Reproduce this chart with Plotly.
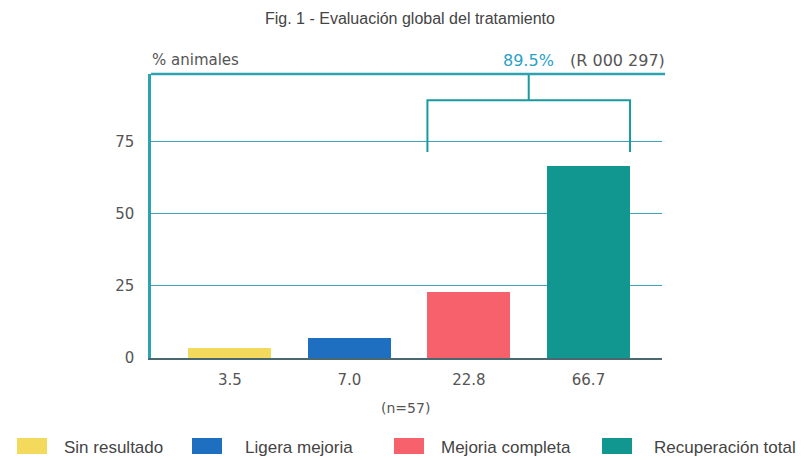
import plotly.graph_objects as go

# ---- data ----
categories = ["Sin resultado", "Ligera mejoria", "Mejoria completa", "Recuperación total"]
values = [3.5, 7.0, 22.8, 66.7]
colors = ["#F4DA5C", "#1F6FC1", "#F6616C", "#11978F"]
y_ticks = [0, 25, 50, 75]
n_label = "(n=57)"
total_label = "89.5%"
ref_label = "(R 000 297)"

# ---- layout constants (target pixels; page body adds an 8px offset) ----
OFF = 8
W, H = 806 - OFF, 460 - OFF
PL, PR, PT, PB = 151, 662, 74, 358   # plot box in target pixels
ML, MT = PL - OFF, PT - OFF
MR, MB = W - (PR - OFF), H - (PB - OFF)
PW, PH = PR - PL, PB - PT
YMAX = 98.6
XR = [-0.66, 3.615]
BW = 0.695
TEAL = "#2EA3B0"
GRID = "#3AA6B8"
TXT = "#555555"
SANS = "Liberation Sans, Arial, sans-serif"
WIDE = "DejaVu Sans, sans-serif"

def px_x(p):
    return (p - PL) / PW

def px_y(p):
    return (PB - p) / PH

fig = go.Figure()
xs = list(range(len(values)))
fig.add_trace(go.Bar(x=xs, y=values, marker=dict(color=colors, line=dict(width=0)),
                     width=BW, showlegend=False, hoverinfo="skip"))

# bracket over the last two groups
total = sum(values[2:])
lx, rx = 2 - BW / 2, 3 + BW / 2
drop = 18
fig.add_trace(go.Scatter(
    x=[lx, lx, rx, rx, None, (lx + rx) / 2, (lx + rx) / 2],
    y=[total - drop, total, total, total - drop, None, total, YMAX],
    mode="lines", line=dict(color="#1A9A9E", width=2),
    showlegend=False, hoverinfo="skip", cliponaxis=False))

fig.update_layout(
    width=W, height=H,
    margin=dict(l=ML, r=MR, t=MT, b=MB),
    plot_bgcolor="white", paper_bgcolor="white",
    font=dict(family=SANS, size=13, color=TXT),
    bargap=0,
    xaxis=dict(range=XR, tickvals=xs, ticktext=[f"{v:.1f}" for v in values],
               showgrid=False, zeroline=False, showline=True, linecolor="#4A6870",
               linewidth=1.5, ticks="", ticklabelstandoff=7,
               tickfont=dict(family=WIDE, size=15, color=TXT)),
    yaxis=dict(range=[0, YMAX], tickvals=y_ticks, showgrid=True, gridcolor=GRID,
               gridwidth=1, zeroline=False, showline=True, linecolor=TEAL, linewidth=2.5,
               ticks="", ticklabelstandoff=11,
               tickfont=dict(family=WIDE, size=15, color=TXT)),
)

# top border line
fig.add_shape(type="line", xref="paper", yref="paper", x0=0, x1=1.006, y0=1, y1=1,
              line=dict(color=TEAL, width=2.5))

# texts
fig.add_annotation(text="Fig. 1 - Evaluación global del tratamiento", xref="paper", yref="paper",
                   x=px_x(410), y=px_y(19), showarrow=False, xanchor="center", yanchor="middle",
                   font=dict(family=SANS, size=16, color="#444444"))
fig.add_annotation(text="% animales", xref="paper", yref="paper", x=px_x(150), y=px_y(60),
                   showarrow=False, xanchor="left", yanchor="middle",
                   font=dict(family=WIDE, size=15, color=TXT))
fig.add_annotation(text=total_label, xref="x", yref="paper", x=(lx + rx) / 2, y=px_y(60),
                   showarrow=False, xanchor="center", yanchor="middle",
                   font=dict(family=WIDE, size=16, color="#2A9FCB"))
fig.add_annotation(text=ref_label, xref="paper", yref="paper", x=px_x(667), y=px_y(60),
                   showarrow=False, xanchor="right", yanchor="middle",
                   font=dict(family=WIDE, size=16, color=TXT))
fig.add_annotation(text=n_label, xref="paper", yref="paper", x=px_x(405), y=px_y(408),
                   showarrow=False, xanchor="center", yanchor="middle",
                   font=dict(family=WIDE, size=14, color=TXT))

# manual legend
sq_x = [17, 192, 394, 602]
tx_x = [62, 243, 439, 652]
leg_y = 446
for cat, col, sx, tx in zip(categories, colors, sq_x, tx_x):
    fig.add_shape(type="rect", xref="paper", yref="paper",
                  x0=px_x(sx), x1=px_x(sx + 30), y0=px_y(leg_y + 8), y1=px_y(leg_y - 8),
                  fillcolor=col, line=dict(width=0))
    fig.add_annotation(text=cat, xref="paper", yref="paper", x=px_x(tx), y=px_y(leg_y + 1),
                       showarrow=False, xanchor="left", yanchor="middle",
                       font=dict(family=SANS, size=17, color="#444444"))

fig.write_html("out.html")
